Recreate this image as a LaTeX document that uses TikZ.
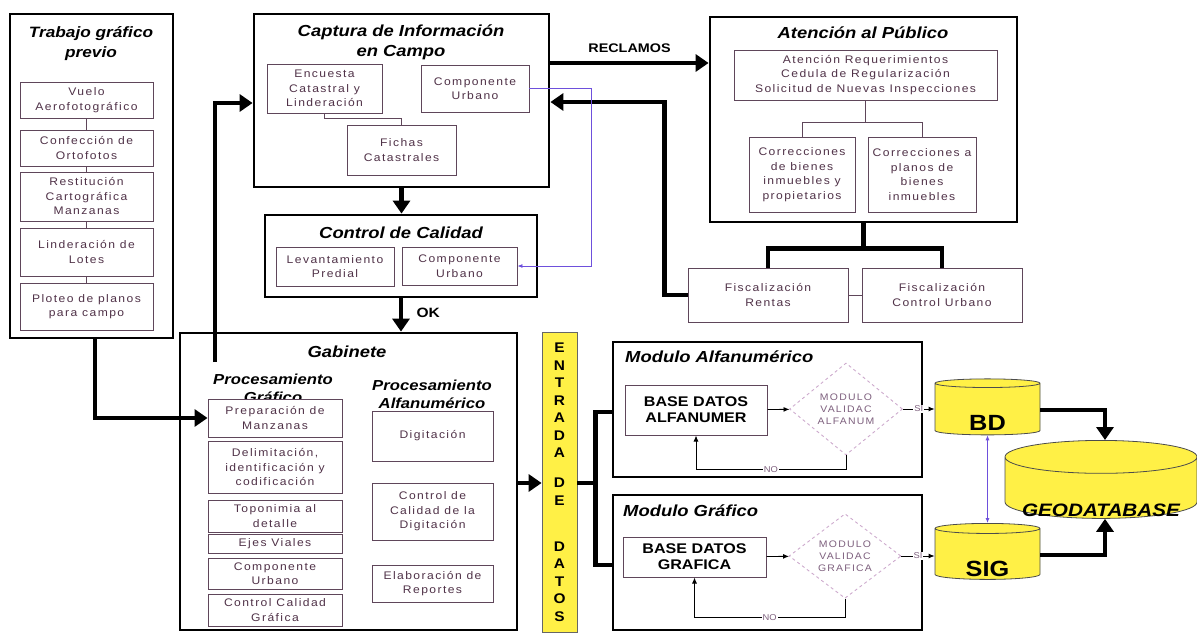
\documentclass[tikz,border=0pt]{standalone}
\usepackage{fontspec}
\setmainfont{Liberation Sans}[FakeStretch=1.1]
\newfontfamily\boxfont{Liberation Sans}[LetterSpace=13,FakeStretch=1.1]
\newfontfamily\headfont{Liberation Sans}[FakeStretch=1.15]
\usetikzlibrary{arrows.meta,shapes.geometric}

\definecolor{boxline}{RGB}{95,70,90}
\definecolor{boxtext}{RGB}{80,50,72}
\definecolor{dbyellow}{RGB}{255,240,70}
\definecolor{linkblue}{RGB}{110,80,220}
\definecolor{validline}{RGB}{205,170,205}
\definecolor{validtext}{RGB}{125,95,125}

\tikzset{
	mainbox/.style={draw, line width=2.8pt, inner sep=0pt},
	heading/.style={font=\headfont\bfseries\itshape\fontsize{16}{20}\selectfont, align=center, inner sep=0pt},
	subheading/.style={heading, font=\headfont\bfseries\itshape\fontsize{14.5}{18}\selectfont},
	subbox/.style={draw=boxline, line width=0.9pt, fill=white, text=boxtext, font=\boxfont\fontsize{11}{14.5}\selectfont, align=center, inner sep=0.5pt},
	sublink/.style={draw=boxline, line width=0.9pt},
	bigarrow/.style={line width=4.5pt, -{Triangle[length=13pt,width=17pt]}},
	bigline/.style={line width=4.5pt},
	dbbox/.style={draw=boxline, line width=1pt, fill=white, font=\headfont\bfseries\fontsize{14}{16}\selectfont, align=center},
	validbox/.style={diamond, draw=validline, dashed, line width=0.9pt, text=validtext, font=\boxfont\fontsize{9.5}{12}\selectfont, align=center, inner sep=0pt},
	smallarrow/.style={line width=0.9pt, -{Latex[length=6pt,width=5pt]}},
	answer/.style={font=\fontsize{8.5}{9}\selectfont, text=validtext, inner sep=1pt, fill=white},
	dbdisk/.style={cylinder, shape border rotate=90, aspect=0.2, draw=black!70, line width=0.8pt, fill=dbyellow, font=\headfont\bfseries\fontsize{22}{24}\selectfont},
	entrada/.style={draw=black!60, line width=0.8pt, fill=dbyellow, font=\bfseries\fontsize{14}{17.5}\selectfont, align=center, minimum width=35pt, minimum height=300pt, inner sep=0pt}
}

\begin{document}
\begin{tikzpicture}[x=1pt, y=-1pt]
	\useasboundingbox (0,0) rectangle (1197,632);

	% Trabajo grafico previo
	\node[mainbox, minimum width=163pt, minimum height=324pt] (trabajo) at (91.5,176) {};
	\node[heading, font=\headfont\bfseries\itshape\fontsize{15}{20}\selectfont] (trabajoT) at (91,44) {Trabajo gráfico\\previo};
	\foreach \nm/\yy/\hh/\txt in {vuelo/100/36/{Vuelo\\Aerofotográfico}, confec/148/36/{Confección de\\Ortofotos}, restit/196.5/49/{Restitución\\Cartográfica\\Manzanas}, linder/252/48/{Linderación de\\Lotes}, ploteo/306.5/47/{Ploteo de planos\\para campo}}
		\node[subbox, minimum width=133pt, minimum height=\hh pt] (\nm) at (86.5,\yy) {\txt};
	\foreach \a/\b in {vuelo/confec, confec/restit, restit/linder, linder/ploteo}
		\draw[sublink] (\a) -- (\b);

	% Captura de informacion en campo
	\node[mainbox, minimum width=295pt, minimum height=173pt] (captura) at (401.5,100.5) {};
	\node[heading] (capturaT) at (401,42) {Captura de Información\\en Campo};
	\node[subbox, minimum width=115pt, minimum height=49pt] (encuesta) at (324.5,88.5) {Encuesta\\Catastral y\\Linderación};
	\node[subbox, minimum width=108pt, minimum height=47pt] (compcap) at (475,88.5) {Componente\\Urbano};
	\node[subbox, minimum width=109pt, minimum height=50pt] (fichas) at (401.5,150) {Fichas\\Catastrales};
	\draw[sublink] (encuesta.south) -- ++(0,5) -| (fichas.north);

	% Control de calidad
	\node[mainbox, minimum width=272pt, minimum height=82pt] (control) at (401,256) {};
	\node[heading] (controlT) at (401,233) {Control de Calidad};
	\node[subbox, minimum width=118pt, minimum height=39pt] (levant) at (335,266.5) {Levantamiento\\Predial};
	\node[subbox, minimum width=115pt, minimum height=38pt] (compctl) at (459.5,266) {Componente\\Urbano};

	% Atencion al publico
	\node[mainbox, minimum width=307pt, minimum height=205pt] (atencion) at (863.5,119.5) {};
	\node[heading] (atencionT) at (863,33) {Atención al Público};
	\node[subbox, minimum width=263pt, minimum height=50pt] (atreq) at (865.5,75) {Atención Requerimientos\\Cedula de Regularización\\Solicitud de Nuevas Inspecciones};
	\node[subbox, minimum width=106pt, minimum height=75pt] (corr1) at (802,174.5) {Correcciones\\de bienes\\inmuebles y\\propietarios};
	\node[subbox, minimum width=108pt, minimum height=75pt] (corr2) at (922,174.5) {Correcciones a\\planos de\\bienes\\inmuebles};
	\draw[sublink] (atreq.south) -- ++(0,22) coordinate (atsplit);
	\draw[sublink] (corr1.north) |- (atsplit) -| (corr2.north);

	% Fiscalizacion
	\node[subbox, minimum width=160pt, minimum height=54pt] (fiscR) at (768,295) {Fiscalización\\Rentas};
	\node[subbox, minimum width=160pt, minimum height=54pt] (fiscCU) at (942,295) {Fiscalización\\Control Urbano};
	\draw[sublink] (fiscR) -- (fiscCU);
	\draw[bigline] (atencion.south) -- ++(0,25) coordinate (fisplit);
	\draw[bigline] (fiscR.north) |- (fisplit) -| (fiscCU.north);

	% Flujos entre captura, control y atencion
	\draw[bigarrow] (captura.east |- 0,63) -- (atencion.west |- 0,63)
		node[midway, above=5pt, font=\headfont\bfseries\fontsize{12.5}{14}\selectfont] (reclamos) {RECLAMOS};
	\draw[bigarrow] (fiscR.west) -- ++(-23,0) |- (captura.east |- 0,102);
	\draw[linkblue, line width=0.8pt, -{Latex[length=5pt,width=4pt]}] (compcap.east) -- ++(62,0) |- (compctl.east);
	\draw[bigarrow] (captura.south) -- (captura.south |- control.north);

	% Gabinete
	\node[mainbox, minimum width=337pt, minimum height=297pt] (gabinete) at (348.5,481.5) {};
	\draw[bigarrow] (control.south) -- (control.south |- gabinete.north)
		node[pos=0.45, right=10pt, font=\headfont\bfseries\fontsize{13.5}{14}\selectfont] (ok) {OK};
	\node[heading] (gabineteT) at (347,352) {Gabinete};
	\node[subheading] (procgraf) at (273,388) {Procesamiento\\Gráfico};
	\node[subheading] (procalfa) at (432,394) {Procesamiento\\Alfanumérico};
	\foreach \nm/\yy/\hh/\txt in {prep/418/38/{Preparación de\\Manzanas}, delim/467/52/{Delimitación,\\identificación y\\codificación}, topo/516/32/{Toponimia al\\detalle}, ejes/543.5/19/{Ejes Viales}, compgab/573.5/31/{Componente\\Urbano}, ctrlgraf/610/32/{Control Calidad\\Gráfica}}
		\node[subbox, minimum width=134pt, minimum height=\hh pt] (\nm) at (275,\yy) {\txt};
	\foreach \nm/\yy/\hh/\txt in {digit/436/50/{Digitación}, ctrldig/511.5/57/{Control de\\Calidad de la\\Digitación}, report/583.5/37/{Elaboración de\\Reportes}}
		\node[subbox, minimum width=121pt, minimum height=\hh pt] (\nm) at (432.5,\yy) {\txt};
	\draw[bigarrow] ([xshift=3.5pt]trabajo.south) |- (prep.west);
	\coordinate (gabout) at (215,362);
	\draw[bigarrow] (gabout) |- (captura.west |- 0,103);

	% Entrada de datos
	\node[entrada] (entrada) at (559.5,482) {E\\N\\T\\R\\A\\D\\A\\[12.5pt]D\\E\\[28.5pt]D\\A\\T\\O\\S};
	\draw[bigarrow] (gabinete.east |- 0,483) -- (entrada.west |- 0,483);

	% Modulo alfanumerico
	\node[mainbox, minimum width=309pt, minimum height=135pt] (modalf) at (767.5,409.5) {};
	\node[heading, anchor=west] (modalfT) at (625,357) {Modulo Alfanumérico};
	\node[dbbox, minimum width=142pt, minimum height=50pt] (baseA) at (696,410) {BASE DATOS\\ALFANUMER};
	\node[validbox, minimum width=113pt, minimum height=92pt] (validA) at (846,409) {MODULO\\VALIDAC\\ALFANUM};

	% Modulo grafico
	\node[mainbox, minimum width=309pt, minimum height=135pt] (modgraf) at (767.5,562.5) {};
	\node[heading, anchor=west] (modgrafT) at (623,511) {Modulo Gráfico};
	\node[dbbox, minimum width=143pt, minimum height=40pt] (baseG) at (694.5,557) {BASE DATOS\\GRAFICA};
	\node[validbox, minimum width=112pt, minimum height=82pt] (validG) at (845,556) {MODULO\\VALIDAC\\GRAFICA};

	\draw[bigline] (entrada.east |- 0,483) -- ++(18,0) coordinate (ensplit);
	\draw[bigline] (modalf.west |- 0,412) -| (ensplit) |- (modgraf.west |- 0,565);

	% Bases de datos
	\node[dbdisk, minimum width=105pt, minimum height=56pt] (bd) at (987.5,410) {\raisebox{-20pt}[0pt][0pt]{BD}};
	\node[dbdisk, minimum width=105pt, minimum height=56pt] (sig) at (987.5,555) {\raisebox{-21pt}[0pt][0pt]{SIG}};
	\node[dbdisk, minimum width=192pt, minimum height=78pt, font=\headfont\bfseries\itshape\fontsize{18}{21}\selectfont] (geo) at (1101,490) {\raisebox{-26pt}[0pt][0pt]{GEODATABASE}};

	% Validacion
	\draw[smallarrow] (baseA) -- (validA);
	\draw[smallarrow] (validA.east) -- (bd.west |- validA.east) node[midway, answer] (siA) {SI};
	\draw[smallarrow] (validA.south) -- ++(0,14) -| node[pos=0.25, answer] (noA) {NO} (baseA.south);
	\draw[smallarrow] (baseG) -- (validG);
	\draw[smallarrow] (validG.east) -- (sig.west |- validG.east) node[midway, answer] (siG) {SI};
	\draw[smallarrow] (validG.south) -- ++(0,19) -| node[pos=0.25, answer] (noG) {NO} (baseG.south);

	% Hacia la geodatabase
	\draw[bigarrow] (bd.east) -| ([xshift=4pt]geo.north);
	\draw[bigarrow] (sig.east) -| ([xshift=4pt]geo.south);
	\draw[linkblue, line width=0.8pt, {Latex[length=5pt,width=4pt]}-{Latex[length=5pt,width=4pt]}] (bd.south) -- (sig.north);
\end{tikzpicture}
\end{document}
